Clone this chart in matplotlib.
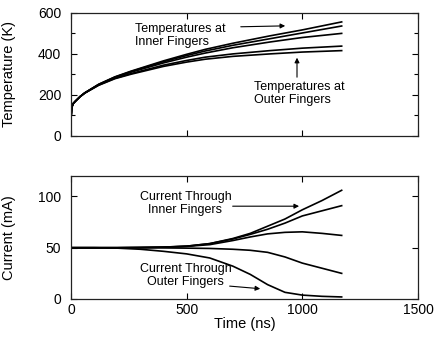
import matplotlib
matplotlib.use('Agg')
import matplotlib.pyplot as plt
from matplotlib.ticker import MultipleLocator

plt.rcParams['font.family'] = ['Liberation Sans', 'DejaVu Sans']

# temperature curves (K) vs time (ns)
temp_time = [0, 1, 4, 10, 20, 40, 60, 120, 190, 260, 400, 500, 580, 700, 860, 1000, 1170]
temp_inner_1 = [0, 95, 140, 158, 170, 192, 210, 252, 288, 316, 366, 398, 422, 452, 488, 517, 556]
temp_inner_2 = [0, 95, 140, 158, 170, 192, 210, 251, 287, 314, 362, 392, 414, 442, 474, 502, 536]
temp_inner_3 = [0, 95, 140, 158, 170, 192, 210, 250, 285, 311, 356, 384, 404, 430, 458, 480, 500]
temp_outer_1 = [0, 95, 140, 158, 170, 192, 209, 248, 281, 304, 345, 368, 384, 400, 416, 428, 438]
temp_outer_2 = [0, 95, 140, 158, 170, 192, 209, 247, 279, 301, 339, 360, 374, 388, 400, 409, 416]

# finger currents (mA) vs time (ns)
cur_time = [0, 0, 100, 200, 300, 400, 500, 600, 700, 775, 850, 925, 1000, 1085, 1170]
cur_inner_1 = [0, 50, 50, 50, 50.2, 50.6, 51.5, 54, 59, 64, 71, 78, 87, 96, 106]
cur_inner_2 = [0, 50, 50, 50, 50.2, 50.6, 51.5, 54, 58.5, 63, 68, 74, 81, 86, 91]
cur_middle = [0, 50, 50, 50, 50.2, 50.5, 51.3, 53, 57, 60.5, 63.5, 65, 65.5, 64, 62]
cur_outer_1 = [0, 50, 50, 50, 50, 49.8, 49.6, 49.3, 48.5, 47.5, 45.5, 41, 35, 30, 25]
cur_outer_2 = [0, 50, 50, 49.6, 48.5, 46.5, 44, 40, 32, 24, 14, 6.5, 3.8, 2.6, 2]


def style_axes(ax, ymax, ystep, yminor):
    ax.set_xlim(0, 1500)
    ax.set_ylim(0, ymax)
    ax.xaxis.set_major_locator(MultipleLocator(500))
    ax.yaxis.set_major_locator(MultipleLocator(ystep))
    if yminor:
        ax.yaxis.set_minor_locator(MultipleLocator(yminor))
    ax.tick_params(which='both', direction='in', top=True, right=True,
                   labelsize=10, width=0.8)
    ax.tick_params(which='major', length=4)
    ax.tick_params(which='minor', length=3)
    ax.tick_params(axis='y', pad=7)
    ax.tick_params(axis='x', pad=3)
    for s in ax.spines.values():
        s.set_linewidth(0.9)
        s.set_color('#222222')


fig = plt.figure(figsize=(4.35, 3.39), dpi=100)
ax1 = fig.add_axes([0.163, 0.599, 0.798, 0.363])
ax2 = fig.add_axes([0.163, 0.118, 0.798, 0.363])

for vals in [temp_inner_1, temp_inner_2, temp_inner_3, temp_outer_1, temp_outer_2]:
    ax1.plot(temp_time, vals, color='black', lw=1.2)
style_axes(ax1, 600, 200, 100)
ax1.tick_params(axis='x', labelbottom=False)
ax1.set_ylabel('Temperature (K)', fontsize=10.5)
ax1.yaxis.set_label_coords(-0.158, 0.5)

arrow = dict(arrowstyle='-|>', lw=0.8, color='black', mutation_scale=7)
ax1.text(277, 490, 'Temperatures at\nInner Fingers', fontsize=9, va='center',
         ha='left', linespacing=1.1)
ax1.annotate('', xy=(938, 537), xytext=(722, 532), arrowprops=arrow)
ax1.text(791, 205, 'Temperatures at\nOuter Fingers', fontsize=9, va='center',
         ha='left', linespacing=1.1)
ax1.annotate('', xy=(977, 395), xytext=(977, 273), arrowprops=arrow)

for vals in [cur_inner_1, cur_inner_2, cur_middle, cur_outer_1, cur_outer_2]:
    ax2.plot(cur_time, vals, color='black', lw=1.2)
style_axes(ax2, 120, 50, None)
ax2.set_ylabel('Current (mA)', fontsize=10.5)
ax2.yaxis.set_label_coords(-0.158, 0.5)
ax2.set_xlabel('Time (ns)', fontsize=10.5, labelpad=0)

ax2.text(495, 93, 'Current Through\nInner Fingers', fontsize=9, va='center',
         ha='center', linespacing=1.1)
ax2.annotate('', xy=(998, 90.5), xytext=(687, 90.5), arrowprops=arrow)
ax2.text(495, 22.5, 'Current Through\nOuter Fingers', fontsize=9, va='center',
         ha='center', linespacing=1.1)
ax2.annotate('', xy=(830, 9.8), xytext=(674, 12.8), arrowprops=arrow)

fig.savefig('out.png', dpi=100)
